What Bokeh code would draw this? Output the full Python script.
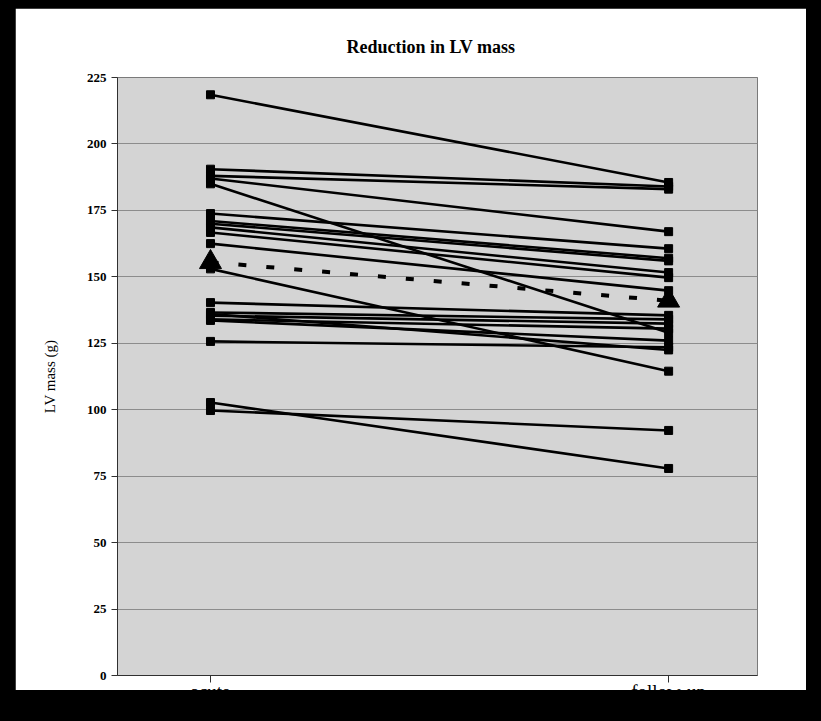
from bokeh.plotting import figure
from bokeh.models import Range1d, FixedTicker, Spacer
from bokeh.layouts import row, column
from bokeh.embed import file_html
from bokeh.resources import INLINE

# ---- data ----
categories = ["acute", "follow-up"]
acute = [218.5, 190.5, 188.0, 187.0, 185.0, 173.8, 171.0, 170.0, 168.6, 166.7,
         162.5, 153.0, 140.3, 136.6, 136.0, 135.4, 134.0, 133.6, 125.7, 102.7, 99.7]
follow_up = [185.5, 184.0, 183.0, 167.0, 129.0, 160.6, 157.0, 156.0, 151.6, 149.7,
             144.8, 114.5, 135.5, 134.0, 122.5, 132.4, 130.5, 126.0, 123.5, 77.9, 92.2]
mean_values = [155.5, 141.0]
y_ticks = [0, 25, 50, 75, 100, 125, 150, 175, 200, 225]

FONT = "Liberation Serif"
xpos = list(range(len(categories)))

p = figure(frame_width=640, frame_height=598, output_backend="svg", toolbar_location=None,
           x_range=Range1d(-0.203, 1.194), y_range=Range1d(0, 225),
           min_border_left=102, min_border_right=49, min_border_top=69,
           min_border_bottom=15, title="Reduction in LV mass")

p.background_fill_color = "#d4d4d4"
p.border_fill_color = "white"
p.outline_line_color = "#7a7a7a"
p.outline_line_width = 1

p.title.text_font = FONT
p.title.text_font_style = "bold"
p.title.text_font_size = "18px"
p.title.text_color = "black"
p.title.align = "left"
p.title.offset = 229
p.title.standoff = 42

p.xgrid.visible = False
p.ygrid.ticker = FixedTicker(ticks=y_ticks)
p.ygrid.grid_line_color = "#8c8c8c"
p.ygrid.grid_line_width = 1

ya = p.yaxis[0]
ya.ticker = FixedTicker(ticks=y_ticks)
ya.major_label_text_font = FONT
ya.major_label_text_font_style = "bold"
ya.major_label_text_font_size = "13px"
ya.major_label_text_color = "black"
ya.major_tick_out = 6
ya.major_tick_in = 0
ya.minor_tick_line_color = None
ya.axis_line_color = "#303030"
ya.major_tick_line_color = "#303030"
ya.axis_label = "LV mass (g)"
ya.axis_label_text_font = FONT
ya.axis_label_text_font_style = "normal"
ya.axis_label_text_font_size = "15px"
ya.axis_label_text_color = "black"
ya.axis_label_standoff = 26

xa = p.xaxis[0]
xa.ticker = FixedTicker(ticks=xpos)
xa.major_label_overrides = {x: c for x, c in zip(xpos, categories)}
xa.major_label_text_font = FONT
xa.major_label_text_font_size = "19px"
xa.major_label_text_color = "black"
xa.major_label_standoff = -2
xa.major_tick_out = 7
xa.major_tick_in = 0
xa.minor_tick_line_color = None
xa.axis_line_color = "#303030"
xa.major_tick_line_color = "#303030"

xs = [[xpos[0], xpos[1]] for _ in acute]
ys = [[a, f] for a, f in zip(acute, follow_up)]
p.multi_line(xs=xs, ys=ys, line_color="black", line_width=2.6)

p.line(x=xpos, y=mean_values, line_color="black", line_width=4, line_dash="8 20")

p.scatter(x=[xpos[0]] * len(acute), y=acute, marker="square", size=8,
          fill_color="black", line_color="black")
p.scatter(x=[xpos[1]] * len(follow_up), y=follow_up, marker="square", size=8,
          fill_color="black", line_color="black")
p.scatter(x=xpos, y=mean_values, marker="triangle", size=22,
          fill_color="black", line_color="black")

layout = column(Spacer(width=806, height=8),
                row(Spacer(width=15, height=682), p))

html = file_html(layout, INLINE)
html = html.replace("</head>",
                    "<style>html,body{background:#000;margin:0;padding:0;}</style></head>", 1)
# black band of the scan that cuts the category labels
html = html.replace("</body>",
                    '<div style="position:fixed;left:0;top:690px;width:100%;height:40px;'
                    'background:#000;z-index:100;"></div></body>', 1)
open("out.html", "w").write(html)
